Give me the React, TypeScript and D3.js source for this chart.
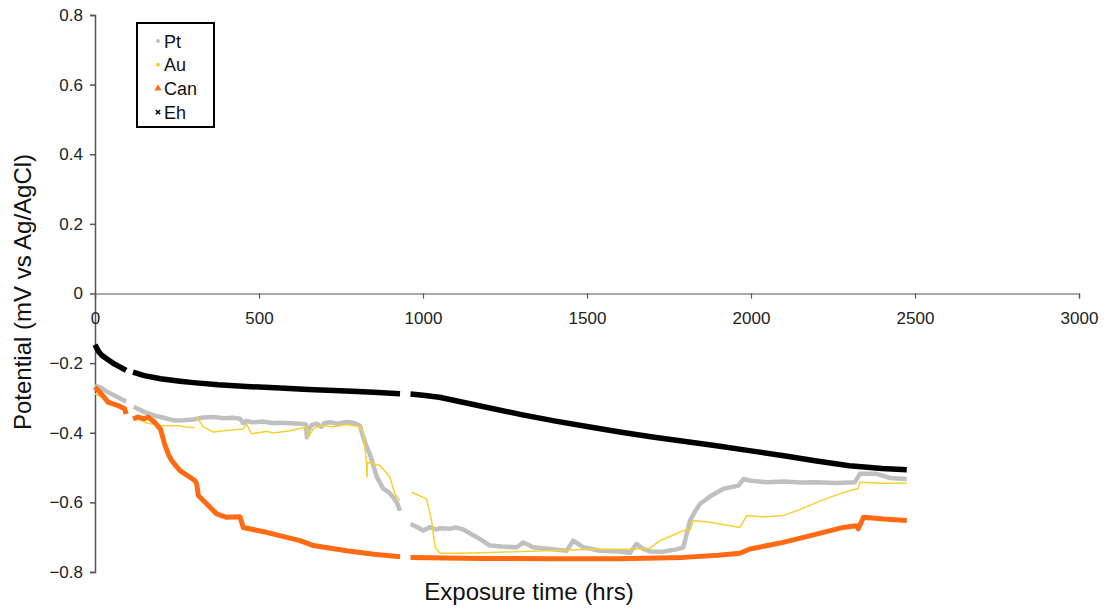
import React, { useRef, useEffect } from 'react';
import * as d3 from 'd3';

// [hours, potential] ; null = gap in the record
const ptData: [number, number | null][] = [
  [0, -0.264], [20, -0.272], [40, -0.284], [65, -0.296], [95, -0.31], [100, null],
  [118, -0.325], [150, -0.34], [182, -0.351], [210, -0.357], [243, -0.365], [270, -0.364],
  [300, -0.362], [330, -0.356], [361, -0.355], [390, -0.358], [420, -0.357], [442, -0.36],
  [452, -0.372], [462, -0.366], [480, -0.37], [513, -0.368], [540, -0.372], [564, -0.371],
  [600, -0.373], [630, -0.374], [643, -0.376], [646, -0.413], [650, -0.395], [660, -0.378],
  [676, -0.374], [690, -0.383], [700, -0.372], [716, -0.37], [740, -0.374], [767, -0.369],
  [790, -0.372], [808, -0.38], [818, -0.413], [828, -0.44], [838, -0.461], [859, -0.527],
  [879, -0.561], [895, -0.57], [909, -0.585], [920, -0.6], [930, -0.624], [940, null],
  [962, -0.662], [980, -0.67], [1001, -0.681], [1021, -0.671], [1040, -0.678], [1052, -0.674],
  [1082, -0.676], [1100, -0.672], [1123, -0.678], [1145, -0.69], [1164, -0.7], [1185, -0.712],
  [1204, -0.724], [1240, -0.727], [1286, -0.729], [1306, -0.715], [1336, -0.729], [1380, -0.733],
  [1438, -0.739], [1458, -0.71], [1489, -0.729], [1540, -0.739], [1600, -0.741], [1631, -0.745],
  [1651, -0.719], [1670, -0.733], [1692, -0.741], [1730, -0.742], [1773, -0.735], [1794, -0.729],
  [1804, -0.69], [1814, -0.652], [1830, -0.625], [1845, -0.604], [1880, -0.58], [1916, -0.561],
  [1962, -0.552], [1977, -0.533], [2000, -0.538], [2048, -0.542], [2100, -0.54], [2150, -0.543],
  [2200, -0.542], [2260, -0.544], [2317, -0.542], [2332, -0.518], [2383, -0.518], [2424, -0.53],
  [2475, -0.533],
];

const auData: [number, number | null][] = [
  [0, -0.288], [20, -0.298], [40, -0.31], [70, -0.325], [95, -0.335], [100, null],
  [118, -0.355], [157, -0.372], [202, -0.379], [259, -0.38], [273, -0.383], [305, -0.386],
  [306, null], [310, -0.355], [330, -0.383], [361, -0.398], [391, -0.394], [420, -0.392],
  [452, -0.389], [462, -0.375], [477, -0.403], [503, -0.399], [523, -0.396], [544, -0.401],
  [595, -0.394], [645, -0.383], [650, -0.413], [666, -0.389], [686, -0.379], [727, -0.383],
  [767, -0.376], [808, -0.383], [818, -0.398], [826, -0.47], [828, -0.485], [829, -0.527],
  [831, -0.485], [850, -0.49], [869, -0.494], [899, -0.527], [914, -0.576], [930, -0.595],
  [940, null], [965, -0.571], [1011, -0.59], [1026, -0.652], [1037, -0.729], [1052, -0.746],
  [1113, -0.746], [1235, -0.743], [1438, -0.737], [1540, -0.735], [1641, -0.735], [1690, -0.732],
  [1723, -0.71], [1760, -0.695], [1794, -0.681], [1815, -0.678], [1824, -0.652], [1875, -0.657],
  [1966, -0.672], [1987, -0.638], [2040, -0.642], [2098, -0.638], [2150, -0.62], [2200, -0.6],
  [2250, -0.582], [2302, -0.566], [2327, -0.561], [2332, -0.542], [2404, -0.545], [2475, -0.545],
];

const canData: [number, number | null][] = [
  [0, -0.269], [19, -0.288], [40, -0.312], [70, -0.322], [90, -0.331], [95, -0.346], [100, null],
  [116, -0.36], [131, -0.355], [151, -0.36], [162, -0.355], [182, -0.37], [200, -0.39],
  [212, -0.432], [225, -0.465], [234, -0.48], [259, -0.509], [290, -0.528], [305, -0.538],
  [310, -0.547], [315, -0.58], [340, -0.604], [371, -0.633], [401, -0.643], [442, -0.641],
  [452, -0.672], [523, -0.686], [625, -0.71], [666, -0.724], [767, -0.739], [850, -0.749],
  [930, -0.756], [940, null], [962, -0.758], [1174, -0.761], [1400, -0.762], [1600, -0.762],
  [1794, -0.758], [1900, -0.752], [1966, -0.746], [1997, -0.734], [2098, -0.715], [2200, -0.691],
  [2281, -0.672], [2322, -0.667], [2327, -0.676], [2343, -0.643], [2404, -0.648], [2475, -0.652],
];

const ehData: [number, number | null][] = [
  [0, -0.147], [10, -0.165], [20, -0.177], [40, -0.19], [60, -0.203], [80, -0.213], [95, -0.221],
  [100, null], [116, -0.226], [150, -0.236], [200, -0.245], [259, -0.252], [300, -0.256],
  [375, -0.262], [462, -0.267], [550, -0.271], [650, -0.276], [767, -0.28], [850, -0.284],
  [930, -0.288], [940, null], [962, -0.289], [1000, -0.292], [1050, -0.298], [1100, -0.308],
  [1150, -0.318], [1200, -0.328], [1300, -0.348], [1400, -0.366], [1500, -0.382], [1600, -0.398],
  [1700, -0.412], [1800, -0.425], [1900, -0.438], [2000, -0.452], [2100, -0.466], [2200, -0.481],
  [2300, -0.495], [2400, -0.503], [2475, -0.506],
];

const xTicks = [0, 500, 1000, 1500, 2000, 2500, 3000];
const yTicks = [-0.8, -0.6, -0.4, -0.2, 0, 0.2, 0.4, 0.6, 0.8];

const series = [
  { name: 'Pt', data: ptData, color: '#c0c0c0', width: 4.5, marker: 'circle' },
  { name: 'Au', data: auData, color: '#f5d030', width: 1.5, marker: 'circle' },
  { name: 'Can', data: canData, color: '#ff6a13', width: 5, marker: 'triangle' },
  { name: 'Eh', data: ehData, color: '#000000', width: 5.5, marker: 'cross' },
];

const W = 1110, H = 612;
const FONT = '"Liberation Sans", Arial, sans-serif';

const App = () => {
  const ref = useRef<SVGSVGElement>(null);

  useEffect(() => {
    const svg = d3.select(ref.current);
    svg.selectAll('*').remove();

    const x = d3.scaleLinear().domain([0, 3000]).range([95, 1079]);
    const y = d3.scaleLinear().domain([-0.8, 0.8]).range([572, 15]);
    const axisColor = '#555';

    // y axis
    const gy = svg.append('g').attr('transform', `translate(${x(0)},0)`)
      .call(d3.axisLeft(y).tickValues(yTicks).tickSize(5).tickPadding(7)
        .tickFormat(d => (d === 0 ? '0' : d3.format('.1f')(d as number))));
    gy.select('.domain').attr('stroke', axisColor).attr('stroke-width', 1.5);
    gy.selectAll('.tick line').attr('stroke', axisColor).attr('stroke-width', 1.5);
    gy.selectAll('.tick text').attr('font-family', FONT).attr('font-size', 17).attr('fill', '#222');

    // x axis at y = 0
    const gx = svg.append('g').attr('transform', `translate(0,${y(0)})`)
      .call(d3.axisBottom(x).tickValues(xTicks).tickSize(5).tickPadding(13).tickFormat(d3.format('d')));
    gx.select('.domain').attr('stroke', axisColor).attr('stroke-width', 1.2);
    gx.selectAll('.tick line').attr('stroke', axisColor).attr('stroke-width', 1.2);
    gx.selectAll('.tick text').attr('font-family', FONT).attr('font-size', 17).attr('fill', '#222');

    const line = d3.line<[number, number | null]>()
      .defined(d => d[1] !== null)
      .x(d => x(d[0]))
      .y(d => y(d[1] as number));

    series.forEach(s => {
      svg.append('path')
        .datum(s.data)
        .attr('fill', 'none')
        .attr('stroke', s.color)
        .attr('stroke-width', s.width)
        .attr('stroke-linejoin', 'round')
        .attr('d', line);
    });

    // axis titles
    svg.append('text')
      .attr('transform', `translate(31,292) rotate(-90)`)
      .attr('text-anchor', 'middle')
      .attr('font-family', FONT).attr('font-size', 24).attr('fill', '#111')
      .text('Potential (mV vs Ag/AgCl)');
    svg.append('text')
      .attr('x', 529).attr('y', 600)
      .attr('text-anchor', 'middle')
      .attr('font-family', FONT).attr('font-size', 24).attr('fill', '#111')
      .text('Exposure time (hrs)');

    // legend
    const lg = svg.append('g').attr('transform', 'translate(137,23)');
    lg.append('rect').attr('width', 77).attr('height', 104)
      .attr('fill', 'white').attr('stroke', '#000').attr('stroke-width', 2);
    series.forEach((s, i) => {
      const cy = 18 + i * 23.7;
      const mx = 21;
      if (s.marker === 'circle') {
        lg.append('circle').attr('cx', mx).attr('cy', cy).attr('r', 2).attr('fill', s.color);
      } else if (s.marker === 'triangle') {
        lg.append('path').attr('d', d3.symbol(d3.symbolTriangle, 22)())
          .attr('transform', `translate(${mx},${cy})`).attr('fill', s.color);
      } else {
        lg.append('path').attr('d', d3.symbol(d3.symbolX, 14)())
          .attr('transform', `translate(${mx},${cy})`).attr('stroke', s.color).attr('stroke-width', 1.5);
      }
      lg.append('text').attr('x', 27).attr('y', cy + 6.5)
        .attr('font-family', FONT).attr('font-size', 18).attr('fill', '#111')
        .text(s.name);
    });
  }, []);

  return (
    <svg ref={ref} width={W} height={H}
      style={{ position: 'absolute', left: 0, top: 0, background: 'white' }} />
  );
};

export default App;
